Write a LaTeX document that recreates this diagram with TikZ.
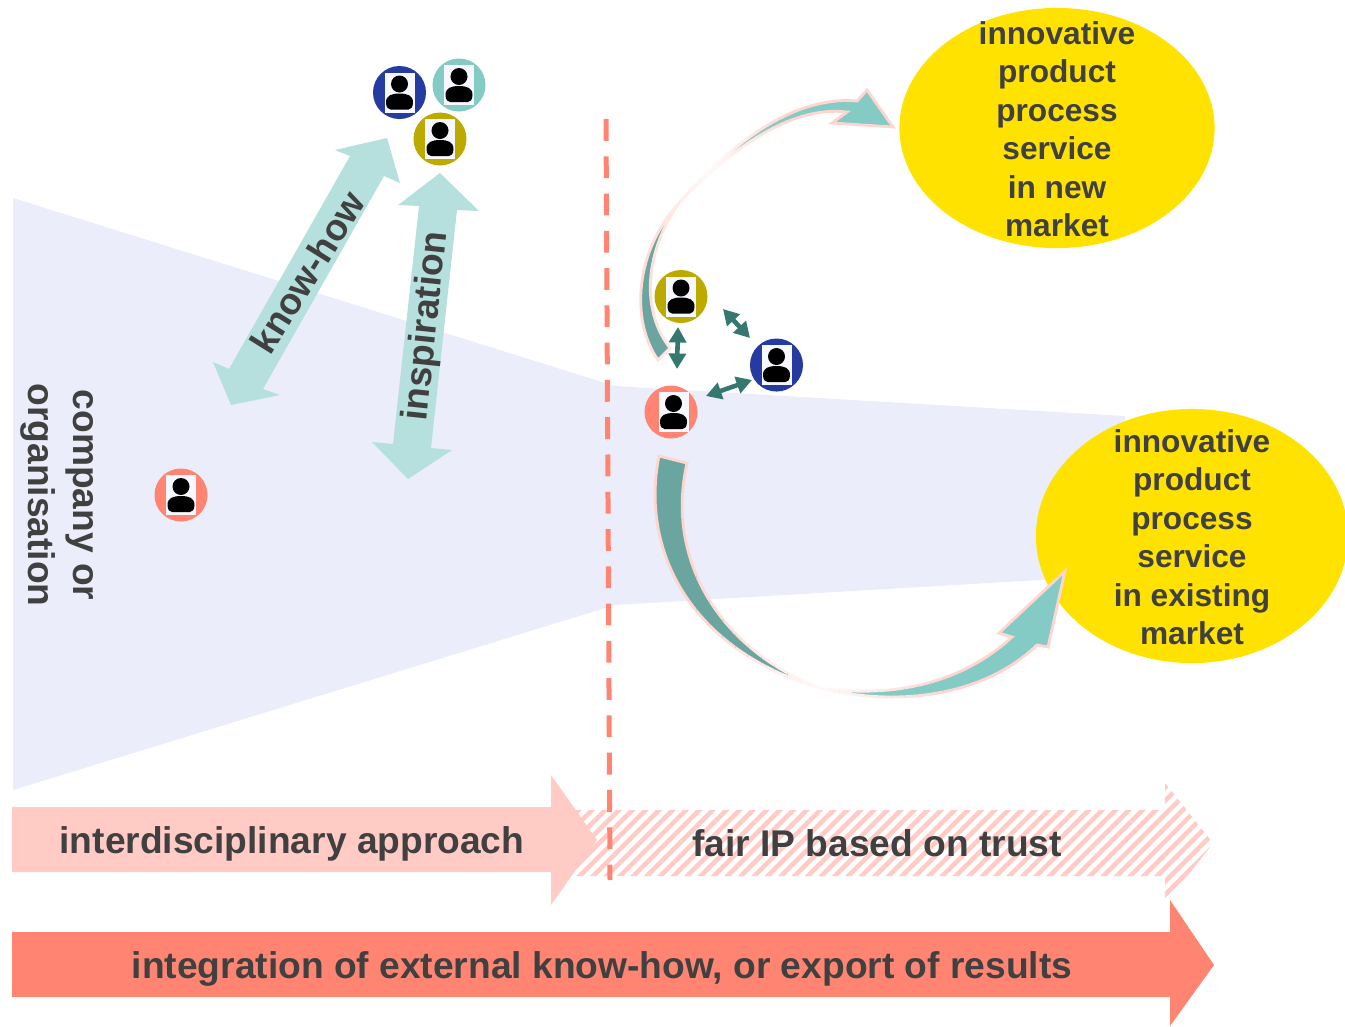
\documentclass[tikz,border=0pt]{standalone}
\usepackage{fontspec}
\setmainfont{Liberation Sans}
\usetikzlibrary{shapes.geometric}
\usetikzlibrary{arrows.meta}
\usetikzlibrary{patterns.meta}
\definecolor{funnelBlue}{HTML}{EBEDFA}
\definecolor{ideaYellow}{HTML}{FFE200}
\definecolor{coral}{HTML}{FF8572}
\definecolor{paleCoral}{HTML}{FFCBC4}
\definecolor{edgePink}{HTML}{FFD5CF}
\definecolor{paleTeal}{HTML}{B5E0DD}
\definecolor{lightTeal}{HTML}{85CBC5}
\definecolor{midTeal}{HTML}{6BA5A0}
\definecolor{darkTeal}{HTML}{35786F}
\definecolor{navy}{HTML}{263B9F}
\definecolor{olive}{HTML}{BDAA00}
\definecolor{labelGrey}{HTML}{404040}
\tikzset{labelText/.style={font=\fontsize{10.57}{12.8}\selectfont\bfseries, text=labelGrey, inner sep=0pt}}
\tikzset{ideaText/.style={font=\fontsize{9}{10.95}\selectfont\bfseries, text=labelGrey, inner sep=0pt, align=center}}
\tikzset{ideaBlob/.style={ellipse, fill=ideaYellow, inner sep=0pt}}
\tikzset{personDot/.style={circle, minimum size=0.53cm, inner sep=0pt}}
\tikzset{linkArrow/.style={{Triangle[length=4.4pt,width=4.8pt]}-{Triangle[length=4.4pt,width=4.8pt]}, line width=1.3pt, draw=darkTeal}}
\tikzset{curveEdge/.style={edgePink, line width=0.8pt}}
\tikzset{personIcon/.pic={
  \fill[white!97!blue] (-15,-20) rectangle (15,20);
  \fill[black] (0,-8.5) circle (0.085cm);
  \fill[black] (-13.5,10) .. controls (-13.5,3) and (-8,1) .. (0,1) .. controls (8,1) and (13.5,3) .. (13.5,10) .. controls (13.5,15) and (11,17) .. (9,17) -- (-9,17) .. controls (-11,17) and (-13.5,15) .. (-13.5,10) -- cycle;
}}
\newcommand{\curveUp}{(658,360) .. controls (630,320) and (635,250) .. (680,202) .. controls (725,150) and (790,95) .. (857,101) -- (867,90) -- (893,127) -- (832,123) -- (847,112) .. controls (790,105) and (730,150) .. (680,202) .. controls (645,250) and (640,310) .. (670,348) -- cycle}
\newcommand{\curveDown}{(659,456) .. controls (640,550) and (690,650) .. (820,688) .. controls (900,708) and (985,695) .. (1037,645) -- (1048,647) -- (1065,571) -- (999,633) -- (1012,637) .. controls (960,685) and (890,698) .. (820,688) .. controls (720,650) and (665,560) .. (687,463) -- cycle}
% thin upright strips, each with its own tint: path, centre, reach, clear, ramp, top, bottom
\newcommand{\blendCurve}[7]{
  \foreach \s in {-20,...,19} {
    \pgfmathsetmacro{\stripL}{#2+\s*#3/20}
    \pgfmathsetmacro{\stripR}{\stripL+#3/20+0.8}
    \pgfmathsetmacro{\stripD}{abs(\s+0.5)*#3/20}
    \pgfmathsetmacro{\fillPct}{min(100,max(0,(\stripD-#4)/#5*100))}
    \pgfmathsetmacro{\edgePct}{12+88*\stripD/#3}
    \ifnum\s<0 \def\tone{midTeal}\else\def\tone{lightTeal}\fi
    \begin{scope}
      \clip (\stripL,#6) rectangle (\stripR,#7);
      \fill[\tone!\fillPct!white] #1;
      \draw[edgePink!\edgePct!white, line width=0.8pt] #1;
    \end{scope}
  }
}
\begin{document}
\begin{tikzpicture}[x=0.01cm, y=-0.01cm]
\useasboundingbox (0,0) rectangle (1345,1026);

\fill[funnelBlue] (13,198) -- (615,386) -- (1125,416) -- (1125,575) -- (615,605) -- (13,790) -- cycle;

\node[ideaBlob, minimum width=3.15cm, minimum height=2.4cm] (ideaNew) at (1057,128) {};
\node[ideaText] (ideaNewText) at (1057,129) {innovative\\product\\process\\service\\in new\\market};
\node[ideaBlob, minimum width=3.12cm, minimum height=2.54cm] (ideaExisting) at (1192,536) {};
\node[ideaText] (ideaExistingText) at (1192,537) {innovative\\product\\process\\service\\in existing\\market};

\fill[paleTeal] (387,138) -- (400,183) -- (384,176) -- (263,389) -- (280,395) -- (231,405) -- (213,362) -- (229,369) -- (350,156) -- (335,150) -- cycle;
\fill[paleTeal] (440,173) -- (479,211) -- (457,210) -- (431,448) -- (452,450) -- (408,479) -- (372,442) -- (393,444) -- (419,206) -- (398,205) -- cycle;
\node[labelText, rotate=58] (knowHow) at (307,272) {know-how};
\node[labelText, rotate=84] (inspiration) at (427,326) {inspiration};
\node[labelText, rotate=-90, align=center] (company) at (57,495) {company or\\organisation};

% people
\node[personDot, fill=coral] (leadLeft) at (181,495) {};
\pic at (181,495) {personIcon};
\node[personDot, fill=navy] (groupBlue) at (399.5,92.5) {};
\pic at (399.5,92.5) {personIcon};
\node[personDot, fill=lightTeal] (groupTeal) at (459,85) {};
\pic at (459,85) {personIcon};
\node[personDot, fill=olive] (groupOlive) at (440,139) {};
\pic at (440,139) {personIcon};
\node[personDot, fill=olive] (teamOlive) at (681,296.5) {};
\pic at (681,296.5) {personIcon};
\node[personDot, fill=navy] (teamBlue) at (776.5,365) {};
\pic at (776.5,365) {personIcon};
\node[personDot, fill=coral] (teamCoral) at (671,412) {};
\pic at (673.5,412) {personIcon};

\coordinate (linkA) at (678,327);
\coordinate (linkB) at (677,369);
\coordinate (linkC) at (723,309);
\coordinate (linkD) at (750,338);
\coordinate (linkE) at (706,396);
\coordinate (linkF) at (752,380);
\draw[linkArrow] (linkA) -- (linkB);
\draw[linkArrow] (linkC) -- (linkD);
\draw[linkArrow] (linkE) -- (linkF);

% curved arrows
\blendCurve{\curveUp}{710}{80}{18}{14}{60}{380}
\begin{scope}
\clip (790,60) rectangle (910,380);
\fill[lightTeal] \curveUp;
\draw[curveEdge] \curveUp;
\end{scope}

\begin{scope}
\clip (640,440) rectangle (690,710);
\fill[midTeal] \curveDown;
\draw[curveEdge] \curveDown;
\end{scope}
\blendCurve{\curveDown}{820}{130}{15}{13}{440}{710}
\begin{scope}
\clip (950,440) rectangle (1080,710);
\fill[lightTeal] \curveDown;
\draw[curveEdge] \curveDown;
\end{scope}

% bottom arrows
\fill[pattern={Lines[angle=45,distance=2.7pt,line width=1.3pt]}, pattern color=paleCoral] (573,810) -- (1165,810) -- (1165,783) -- (1213,843) -- (1165,905) -- (1165,876) -- (573,876) -- cycle;
\fill[paleCoral] (12,807) -- (551,807) -- (551,775) -- (597,840) -- (551,905) -- (551,872) -- (12,872) -- cycle;
\fill[coral] (12,932) -- (1170,932) -- (1170,900) -- (1214,965) -- (1170,1026) -- (1170,997) -- (12,997) -- cycle;
\draw[coral, line width=1.42pt, dash pattern=on 6.2pt off 4.4pt] (606,119) -- (610,880);

\node[labelText] (approach) at (292,844) {interdisciplinary approach};
\node[labelText] (fairIP) at (877,843) {fair IP based on trust};
\node[labelText] (integration) at (602,969) {integration of external know-how, or export of results};
\end{tikzpicture}
\end{document}
